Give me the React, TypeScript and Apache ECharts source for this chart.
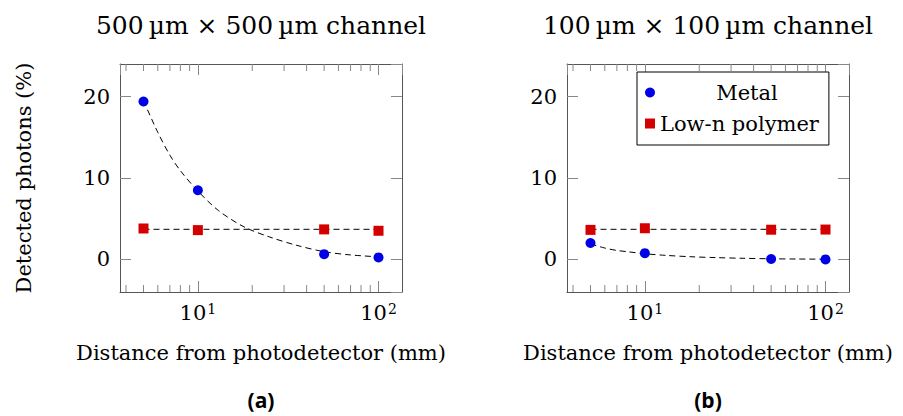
import React, { useEffect, useRef } from 'react';
import * as echarts from 'echarts';

// ---- data ----
const distances = [5, 10, 50, 100];
const metalA = [19.4, 8.5, 0.65, 0.25];
const polymerA = [3.8, 3.6, 3.69, 3.52];
const metalB = [2.02, 0.77, 0.05, 0.0];
const polymerB = [3.63, 3.83, 3.65, 3.67];

const fitX = [5, 6, 7, 8, 10, 13, 18, 25, 35, 50, 70, 100];
const metalFitA = [19.5, 15.6, 12.8, 10.9, 8.4, 6.0, 4.0, 2.75, 1.75, 0.95, 0.55, 0.32];
const metalFitB = [1.9, 1.4, 1.1, 0.95, 0.7, 0.5, 0.33, 0.22, 0.14, 0.08, 0.05, 0.03];
const polymerFitX = [5, 100];
const polymerFitA = [3.69, 3.69];
const polymerFitB = [3.7, 3.7];

const minorTickValues = [4, 5, 6, 7, 8, 9, 20, 30, 40, 50, 60, 70, 80, 90];
const titles = ['500\u2009µm × 500\u2009µm channel', '100\u2009µm × 100\u2009µm channel'];
const panelLabels = ['(a)', '(b)'];
const xLabel = 'Distance from photodetector (mm)';
const yLabel = 'Detected photons (%)';
const seriesNames = ['Metal', 'Low-n polymer'];

const SERIF = 'DejaVu Serif';
const FS = 21;
const BOX = '#555';
const TICK = '#888';
const BLUE = '#0000e6';
const RED = '#d40000';
const X_MIN = 3.706;
const X_MAX = 134.9;
const Y_MIN = -4;
const Y_MAX = 24;

export default function App() {
  const ref = useRef<HTMLDivElement>(null);
  useEffect(() => {
    const chart = echarts.init(ref.current!, null, { renderer: 'svg' });
    const grids = [
      { left: 120, top: 64, width: 282, height: 228 },
      { left: 567, top: 64, width: 282, height: 228 },
    ];
    const panels = [
      { metal: metalA, polymer: polymerA, metalFit: metalFitA, polymerFit: polymerFitA },
      { metal: metalB, polymer: polymerB, metalFit: metalFitB, polymerFit: polymerFitB },
    ];
    const xAxes: any[] = [];
    const yAxes: any[] = [];
    const series: any[] = [];
    const graphic: any[] = [];
    grids.forEach((g, gi) => {
      const commonX = {
        type: 'log',
        logBase: 10,
        gridIndex: gi,
        min: X_MIN,
        max: X_MAX,
        splitLine: { show: false },
        axisLine: { show: true, onZero: false, lineStyle: { color: BOX, width: 1 } },
        axisTick: { show: true, inside: true, length: 11, lineStyle: { color: TICK, width: 1 } },
      };
      xAxes.push({
        ...commonX,
        position: 'bottom',
        name: xLabel,
        nameLocation: 'middle',
        nameGap: 50,
        nameTextStyle: { fontFamily: SERIF, fontSize: FS, color: '#000' },
        axisLabel: {
          margin: 10,
          showMinLabel: false,
          showMaxLabel: false,
          formatter: (v: number) => `{b|10}{s|${Math.round(Math.log10(v))}}`,
          rich: {
            b: { fontFamily: SERIF, fontSize: FS, color: '#000' },
            s: { fontFamily: SERIF, fontSize: 14, color: '#000', verticalAlign: 'top', padding: [0, 0, 0, 1] },
          },
        },
      });
      xAxes.push({ ...commonX, position: 'top', axisLabel: { show: false } });
      const commonY = {
        type: 'value',
        gridIndex: gi,
        min: Y_MIN,
        max: Y_MAX,
        minInterval: 10,
        maxInterval: 10,
        splitLine: { show: false },
        axisLine: { show: true, onZero: false, lineStyle: { color: BOX, width: 1 } },
        axisTick: { show: true, inside: true, length: 11, lineStyle: { color: TICK, width: 1 } },
      };
      yAxes.push({
        ...commonY,
        position: 'left',
        name: gi === 0 ? yLabel : '',
        nameLocation: 'middle',
        nameGap: 86,
        nameRotate: 90,
        nameTextStyle: { fontFamily: SERIF, fontSize: FS, color: '#000' },
        axisLabel: {
          margin: 10,
          showMinLabel: false,
          showMaxLabel: false,
          fontFamily: SERIF,
          fontSize: FS,
          color: '#000',
        },
      });
      yAxes.push({ ...commonY, position: 'right', axisLabel: { show: false } });

      const xi = gi * 2;
      const yi = gi * 2;
      const p = panels[gi];
      const dash = { color: '#000', width: 1, type: [6, 4] };
      series.push({
        type: 'line', name: 'Metal fit', xAxisIndex: xi, yAxisIndex: yi,
        data: fitX.map((x, i) => [x, p.metalFit[i]]),
        smooth: 0.3, symbol: 'none', lineStyle: dash, silent: true, z: 2,
      });
      series.push({
        type: 'line', name: 'Polymer fit', xAxisIndex: xi, yAxisIndex: yi,
        data: polymerFitX.map((x, i) => [x, p.polymerFit[i]]),
        symbol: 'none', lineStyle: { ...dash, color: '#333', width: 1.2 }, silent: true, z: 2,
      });
      series.push({
        type: 'scatter', name: seriesNames[0], xAxisIndex: xi, yAxisIndex: yi,
        data: distances.map((x, i) => [x, p.metal[i]]),
        symbol: 'circle', symbolSize: 10, itemStyle: { color: BLUE, opacity: 1 }, z: 4,
      });
      series.push({
        type: 'scatter', name: seriesNames[1], xAxisIndex: xi, yAxisIndex: yi,
        data: distances.map((x, i) => [x, p.polymer[i]]),
        symbol: 'rect', symbolSize: 10, itemStyle: { color: RED, opacity: 1 }, z: 4,
      });
      series.push({
        type: 'scatter', name: 'minor-bottom', xAxisIndex: xi, yAxisIndex: yi,
        data: minorTickValues.map((v) => [v, Y_MIN]),
        symbol: 'rect', symbolSize: [1, 7], symbolOffset: [0, -3.5],
        itemStyle: { color: TICK, opacity: 1 }, silent: true, clip: false, z: 1,
      });
      series.push({
        type: 'scatter', name: 'minor-top', xAxisIndex: xi, yAxisIndex: yi,
        data: minorTickValues.map((v) => [v, Y_MAX]),
        symbol: 'rect', symbolSize: [1, 7], symbolOffset: [0, 3.5],
        itemStyle: { color: TICK, opacity: 1 }, silent: true, clip: false, z: 1,
      });

      const cx = g.left + g.width / 2;
      graphic.push({
        type: 'text', x: cx, y: 25,
        style: { text: titles[gi], fontFamily: SERIF, fontSize: 25, fill: '#000', textAlign: 'center', textVerticalAlign: 'middle' },
      });
      graphic.push({
        type: 'text', x: cx, y: 400,
        style: { text: panelLabels[gi], fontFamily: 'Open Sans', fontWeight: 'bold', fontSize: 21, fill: '#000', textAlign: 'center', textVerticalAlign: 'middle' },
      });
    });

    chart.setOption({
      animation: false,
      backgroundColor: '#fff',
      grid: grids,
      xAxis: xAxes,
      yAxis: yAxes,
      series,
      graphic,
      legend: {
        data: seriesNames,
        orient: 'vertical',
        left: 637,
        top: 72,
        itemWidth: 10,
        itemHeight: 10,
        itemGap: 10,
        padding: [10, 10, 11, 8],
        borderColor: '#000',
        borderWidth: 1,
        backgroundColor: '#fff',
        formatter: (name: string) => (name === 'Metal' ? `{c|${name}}` : `{l|${name}}`),
        textStyle: {
          fontFamily: SERIF,
          fontSize: FS,
          color: '#000',
          rich: {
            c: { fontFamily: SERIF, fontSize: FS, color: '#000', width: 174, align: 'center' },
            l: { fontFamily: SERIF, fontSize: FS, color: '#000', width: 174, align: 'left' },
          },
        },
      },
    });
    return () => chart.dispose();
  }, []);
  return <div ref={ref} style={{ position: 'absolute', left: 0, top: 0, width: 903, height: 416 }} />;
}
